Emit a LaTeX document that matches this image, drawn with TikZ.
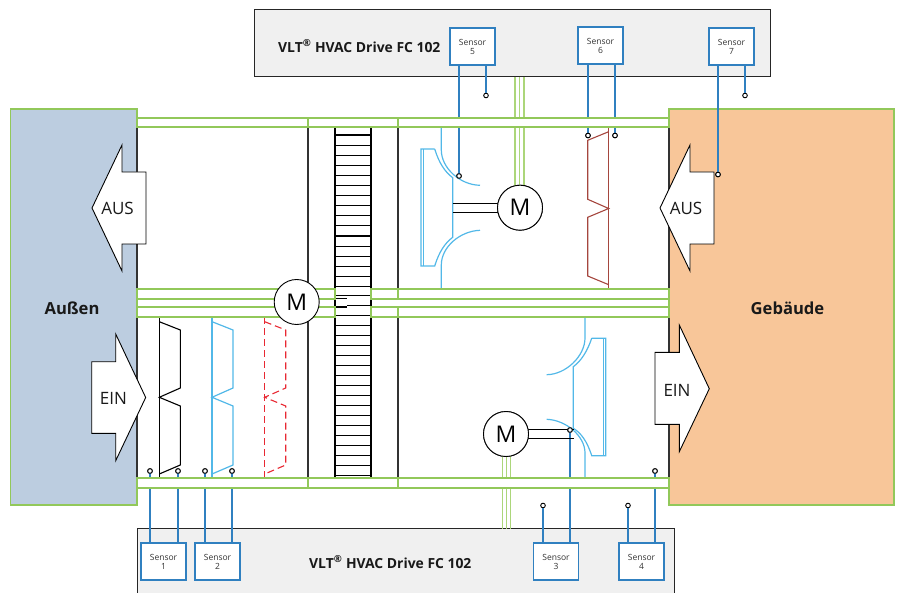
\documentclass[tikz,border=0pt]{standalone}
\usepackage{fontspec}
\setmainfont{Open Sans}
\definecolor{ductgreen}{RGB}{146,200,90}
\definecolor{shaftgreen}{RGB}{172,214,122}
\definecolor{sensorblue}{RGB}{48,128,192}
\definecolor{fanblue}{RGB}{82,184,232}
\definecolor{brownred}{RGB}{165,70,62}
\definecolor{dashred}{RGB}{232,40,50}
\definecolor{outside}{RGB}{188,205,224}
\definecolor{building}{RGB}{248,198,153}
\definecolor{drivegray}{RGB}{240,240,240}
\tikzset{
  zone/.style={draw=ductgreen,line width=1.1pt},
  drivebox/.style={draw=black!85,fill=drivegray,line width=1pt},
  sensorbox/.style={draw=sensorblue,fill=white,line width=1.2pt,minimum width=45pt,minimum height=37pt,inner sep=0pt,outer sep=0pt,align=center,font=\fontsize{8.5}{9}\selectfont,text=black!80},
  terminal/.style={circle,draw=black,fill=white,line width=0.9pt,minimum size=4.6pt,inner sep=0pt,outer sep=0pt},
  wire/.style={draw=sensorblue,line width=1.3pt},
  duct/.style={draw=ductgreen,fill=white,line width=1.3pt},
  wall/.style={draw=black!80,line width=1.1pt},
  rung/.style={draw=black,line width=1.1pt},
  motor/.style={circle,draw=black,fill=white,line width=0.9pt,minimum size=45pt,inner sep=0pt,font=\fontsize{23}{23}\selectfont},
  shaftline/.style={draw=shaftgreen,line width=1.5pt},
  fan/.style={draw=fanblue,line width=1.2pt},
  flow/.style={draw=black,fill=white,line width=0.9pt,line join=miter},
  flowtext/.style={font=\fontsize{17}{17}\selectfont,text=black!90,inner sep=0pt},
  zonetext/.style={font=\fontsize{16.6}{17}\selectfont\bfseries,text=black!90,inner sep=0pt},
  drivetext/.style={font=\fontsize{13.9}{14}\selectfont\bfseries,text=black!90,inner sep=0pt},
  filterblack/.style={draw=black,line width=1.1pt},
  filterblue/.style={draw=fanblue,line width=1.2pt},
  filterred/.style={draw=dashred,line width=1.1pt,dash pattern=on 7pt off 4pt},
  filterbrown/.style={draw=brownred,line width=1.1pt},
}
\begin{document}
\begin{tikzpicture}[x=1pt,y=-1pt]
\useasboundingbox (0,0) rectangle (899,593);
% zones and drives
\path[zone,fill=outside] (10.5,109) rectangle (137,505);
\path[zone,fill=building] (669,109) rectangle (894,505);
\path[drivebox] (254,10) rectangle (770,77);
\fill[drivegray] (137,528.5) rectangle (674,593);
\draw[black!85,line width=1pt] (137,593) -- (137,528.5) -- (674,528.5) -- (674,593);
\node[drivetext,anchor=west] (drivetop) at (278,46) {VLT\textsuperscript{®} HVAC Drive FC 102};
\node[drivetext,anchor=west] (drivebot) at (309,562) {VLT\textsuperscript{®} HVAC Drive FC 102};
% walls
\foreach \x in {137,308,398,669}{
  \draw[wall] (\x,127) -- (\x,289);
  \draw[wall] (\x,317) -- (\x,478);
}
% heat exchanger
\draw[rung] (335,127) -- (335,478) (371,127) -- (371,478);
\foreach \y in {135,145.1,...,290}{ \draw[rung] (335,\y) -- (371,\y); }
\foreach \y in {315.4,325.4,...,478}{ \draw[rung] (335,\y) -- (371,\y); }
\draw[rung] (335,295.6) -- (371,295.6) (335,298.7) -- (347,298.7) (335,307) -- (347,307) (347,305.2) -- (371,305.2);
% sensors
\node[sensorbox] (s5) at (472.5,46.5) {Sensor\\5};
\node[sensorbox] (s6) at (600.5,45.5) {Sensor\\6};
\node[sensorbox] (s7) at (731.5,46.5) {Sensor\\7};
\node[sensorbox] (s1) at (163.5,561.5) {Sensor\\1};
\node[sensorbox] (s2) at (217.5,561.5) {Sensor\\2};
\node[sensorbox] (s3) at (556,561.5) {Sensor\\3};
\node[sensorbox] (s4) at (641.5,561.5) {Sensor\\4};
% motors
\node[motor] (m1) at (520,207.7) {M};
\node[motor] (m3) at (506,434) {M};
% terminals
\path (459,176) node[terminal] (t5a) {} (486,95.5) node[terminal] (t5b) {}
      (588,135.5) node[terminal] (t6a) {} (615,135.5) node[terminal] (t6b) {}
      (718,174.5) node[terminal] (t7a) {} (745,95.5) node[terminal] (t7b) {}
      (150,471) node[terminal] (t1a) {} (178,471) node[terminal] (t1b) {}
      (205,471) node[terminal] (t2a) {} (232,471) node[terminal] (t2b) {}
      (543,505.5) node[terminal] (t3a) {} (570,430) node[terminal] (t3b) {}
      (628,505.5) node[terminal] (t4a) {} (655,471) node[terminal] (t4b) {};
% wires
\foreach \s/\t in {s5/t5a,s5/t5b,s6/t6a,s6/t6b,s7/t7a,s7/t7b}{ \draw[wire] (\s.south -| \t) -- (\t.north); }
\foreach \s/\t in {s1/t1a,s1/t1b,s2/t2a,s2/t2b,s3/t3a,s3/t3b,s4/t4a,s4/t4b}{ \draw[wire] (\s.north -| \t) -- (\t.south); }
% motor power lines
\foreach \x in {515,519.5,524}{ \draw[shaftline] (\x,77) -- (\x,0 |- m1.center); }
\foreach \x in {502.3,506.7,510.7}{ \draw[shaftline] (\x,0 |- m3.center) -- (\x,528.5); }
% fan 1
\draw[fan] (434.7,149) -- (421,149) -- (421,266) -- (434.7,266) .. controls (439,252) and (445,243) .. (452.7,237.3) -- (452.7,177.7) .. controls (445,172) and (439,163) .. (434.7,149);
\draw[fan] (423.3,149) -- (423.3,266);
\draw[fan] (441.3,127) -- (441.3,150) .. controls (441.3,168) and (460,185) .. (480,185.3);
\draw[fan] (480,230.3) .. controls (460,231) and (441.3,247) .. (441.3,265) -- (441.3,289);
\draw[rung] (452.7,203.3) -- (520,203.3) (452.7,212.3) -- (520,212.3);
% fan 2
\draw[fan] (591.7,338.3) -- (605.7,338.3) -- (605.7,455.7) -- (591.7,455.7) .. controls (587,441) and (581,433) .. (573.3,428.3) -- (573.3,366.7) .. controls (581,361) and (587,352) .. (591.7,338.3);
\draw[fan] (603.3,338.3) -- (603.3,455.7);
\draw[fan] (585,317) -- (585,338) .. controls (585,356) and (566,374.5) .. (546.7,374.7);
\draw[fan] (546.7,419.3) .. controls (566,420) and (585,436) .. (585,453) -- (585,478);
\draw[rung] (506,429.3) -- (574,429.3) (506,438.3) -- (574,438.3);
% filters
\foreach \x/\c in {159.3/filterblack,212/filterblue,264.7/filterred}{
  \draw[\c] (\x,317) -- (\x,478);
  \draw[\c] (\x,321.7) -- (\x+21,330) -- (\x+21,388) -- (\x,397.3) -- (\x+21,406) -- (\x+21,465) -- (\x,474);
}
\draw[filterbrown] (608.7,127) -- (608.7,289);
\draw[filterbrown] (608.7,131.7) -- (587.7,140.3) -- (587.7,199.3) -- (608.7,208.5) -- (587.7,217.3) -- (587.7,276) -- (608.7,284.7);
% ducts
\path[duct] (137,118) rectangle (669,127);
\path[duct] (137,478) rectangle (669,488);
\foreach \ya/\yb in {289/299,307/317}{
  \path[duct] (137,\ya) rectangle (335,\yb);
  \path[duct] (371,\ya) rectangle (669,\yb);
}
\foreach \x in {308,398}{
  \foreach \ya/\yb in {118/127,289/299,307/317,478/488}{
    \draw[draw=ductgreen,line width=1.3pt] (\x,\ya) -- (\x,\yb);
  }
}
% terminals and motors on top
\foreach \t in {t5a,t6a,t6b,t1a,t1b,t2a,t2b,t3b,t4b}{ \node[terminal] at (\t) {}; }
\node[motor] (m1b) at (m1) {M};
\node[motor] (m3b) at (m3) {M};
\node[motor] (m2) at (296.7,302) {M};
% flow arrows
\path[flow] (92,208) -- (122,145) -- (122,172) -- (146,172) -- (146,244) -- (122,244) -- (122,271) -- cycle;
\path[flow] (660,208) -- (690,145) -- (690,172) -- (714,172) -- (714,244) -- (690,244) -- (690,271) -- cycle;
\path[flow] (145.7,397.5) -- (115.7,334) -- (115.7,361.7) -- (91.7,361.7) -- (91.7,433.3) -- (115.7,433.3) -- (115.7,460.7) -- cycle;
\path[flow] (709.3,388.7) -- (679.3,325) -- (679.3,352.3) -- (655,352.3) -- (655,424.3) -- (679.3,424.3) -- (679.3,451.7) -- cycle;
\draw[wire] (t7a.north) -- (718,172);
\node[terminal] at (t7a) {};
\node[flowtext] (ausl) at (117.5,208) {AUS};
\node[flowtext] (ausr) at (686,208) {AUS};
\node[flowtext] (einl) at (113.5,398) {EIN};
\node[flowtext] (einr) at (677,390) {EIN};
\node[zonetext] (aussen) at (72,308) {Außen};
\node[zonetext] (gebaeude) at (787.5,308) {Gebäude};
\end{tikzpicture}
\end{document}
